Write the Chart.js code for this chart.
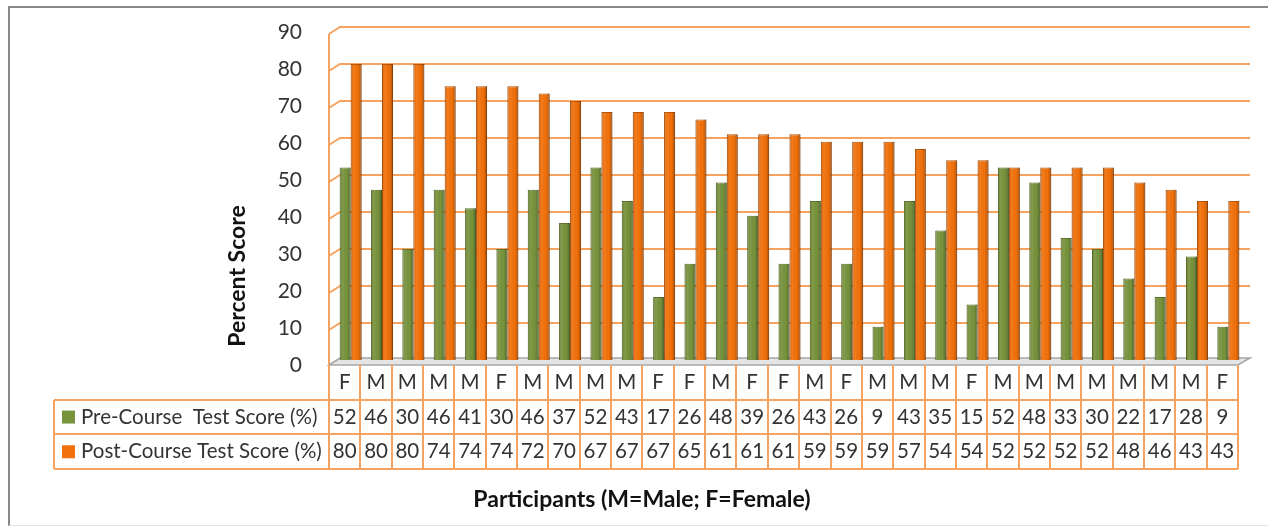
<!DOCTYPE html>
<html>
<head>
<meta charset="utf-8">
<script src="https://cdn.jsdelivr.net/npm/chart.js@4.4.1/dist/chart.umd.min.js"></script>
<style>
  html, body { margin: 0; padding: 0; background: #fff; }
  #wrap { position: relative; width: 1268px; height: 527px; overflow: hidden; }
  #frame { position: absolute; left: 8px; top: 6px; width: 1300px; height: 517px;
           border-left: 2px solid #888; border-top: 2px solid #888; border-bottom: 1px solid #e2e2e2; }
  #c { position: absolute; left: 0; top: 0; }
</style>
</head>
<body>
<div id="wrap">
  <div id="frame"></div>
  <canvas id="c" width="1268" height="527"></canvas>
</div>
<script>
// --- DATA ---
const participants = ['F','M','M','M','M','F','M','M','M','M','F','F','M','F','F','M','F','M','M','M','F','M','M','M','M','M','M','M','F'];
const preScores  = [52,46,30,46,41,30,46,37,52,43,17,26,48,39,26,43,26,9,43,35,15,52,48,33,30,22,17,28,9];
const postScores = [80,80,80,74,74,74,72,70,67,67,67,65,61,61,61,59,59,59,57,54,54,52,52,52,52,48,46,43,43];
const seriesNames = ['Pre-Course  Test Score (%)', 'Post-Course Test Score (%)'];
const yMin = 0, yMax = 90, yStep = 10;

// --- STYLE ---
const GREEN = '#77933c', GREEN_DARK = '#5b7229';
const ORANGE = '#f2710a', ORANGE_DARK = '#b85405';
const GRID = '#f7a35f';
const TEXT = '#333333';
const FONT = 'Lato, "Noto Sans", sans-serif';

const shift = 6;      // 3D offset of bars vs the data table
const depthX = 11, depthY = 7;
const tableLeft = 54, rowTop = 365, rowH = 34.7;

// back wall, floor and left wall drawn before bars
const wallPlugin = {
    id: 'wall',
    beforeDatasetsDraw(chart) {
        const { ctx, chartArea: { left, right }, scales: { y } } = chart;
        const x0 = left - shift, x1 = x0 + depthX, xr = right + shift;
        ctx.save();
        ctx.strokeStyle = GRID;
        ctx.lineWidth = 2;
        y.ticks.forEach(t => {
            if (t.value === 0) return;
            const yy = Math.round(y.getPixelForValue(t.value));
            ctx.beginPath();
            ctx.moveTo(x0, yy + depthY);
            ctx.lineTo(x1, yy);
            ctx.lineTo(xr, yy);
            ctx.stroke();
        });
        // left wall edge
        ctx.beginPath();
        ctx.moveTo(x0, y.getPixelForValue(yMax) + depthY);
        ctx.lineTo(x0, rowTop);
        ctx.stroke();

        // floor
        const y0 = y.getPixelForValue(0);
        const tableRight = right - shift;
        ctx.beginPath();
        ctx.moveTo(x0, y0 + 5);
        ctx.lineTo(x1, y0 - 2);
        ctx.lineTo(xr, y0 - 2);
        ctx.lineTo(tableRight, y0 + 5);
        ctx.closePath();
        ctx.fillStyle = '#e4e4e4';
        ctx.fill();
        ctx.strokeStyle = '#a6a6a6';
        ctx.lineWidth = 1.5;
        ctx.stroke();
        ctx.restore();
    },
    afterDatasetsDraw(chart) {
        // cylinder-like shading on the bars
        const { ctx } = chart;
        ctx.save();
        chart.data.datasets.forEach((ds, di) => {
            chart.getDatasetMeta(di).data.forEach(bar => {
                const w = bar.width, xl = bar.x - w / 2;
                const g = ctx.createLinearGradient(xl, 0, xl + w, 0);
                g.addColorStop(0, 'rgba(0,0,0,0.12)');
                g.addColorStop(0.3, 'rgba(255,255,255,0.08)');
                g.addColorStop(0.65, 'rgba(0,0,0,0.0)');
                g.addColorStop(1, 'rgba(0,0,0,0.28)');
                ctx.fillStyle = g;
                ctx.fillRect(xl, bar.y, w, bar.base - bar.y);
            });
        });
        ctx.restore();
    }
};

// data table + axis titles
const tablePlugin = {
    id: 'dataTable',
    afterDraw(chart) {
        const { ctx, chartArea: { left, right }, scales: { x } } = chart;
        const colW = x.getPixelForValue(1) - x.getPixelForValue(0);
        const x0 = left - shift, tableRight = right - shift;
        const bottom = rowTop + rowH * 3;
        ctx.save();

        ctx.strokeStyle = GRID;
        ctx.lineWidth = 2;
        // horizontal rules
        [1, 2, 3].forEach(r => {
            const yy = Math.round(rowTop + rowH * r);
            ctx.beginPath();
            ctx.moveTo(tableLeft, yy);
            ctx.lineTo(tableRight, yy);
            ctx.stroke();
        });
        // label cell left edge
        ctx.beginPath();
        ctx.moveTo(tableLeft, Math.round(rowTop + rowH));
        ctx.lineTo(tableLeft, Math.round(bottom));
        ctx.stroke();
        // column rules
        for (let i = 0; i <= participants.length; i++) {
            const xx = Math.round(x0 + i * colW);
            ctx.beginPath();
            ctx.moveTo(xx, rowTop);
            ctx.lineTo(xx, bottom);
            ctx.stroke();
        }

        // cell text
        ctx.fillStyle = TEXT;
        ctx.font = '20.5px ' + FONT;
        ctx.textAlign = 'center';
        ctx.textBaseline = 'middle';
        participants.forEach((p, i) => {
            const cx = x.getPixelForValue(i) - shift;
            ctx.fillText(p, cx, rowTop + rowH * 0.5);
            ctx.fillText(String(preScores[i]), cx, rowTop + rowH * 1.5);
            ctx.fillText(String(postScores[i]), cx, rowTop + rowH * 2.5);
        });

        // legend keys in the row headers
        [GREEN, ORANGE].forEach((c, r) => {
            const cy = rowTop + rowH * (1.5 + r);
            ctx.fillStyle = c;
            ctx.fillRect(62, cy - 6.5, 13, 13);
            ctx.fillStyle = TEXT;
            ctx.textAlign = 'left';
            ctx.fillText(seriesNames[r], 81, cy);
        });

        // axis titles
        ctx.font = 'bold 23px ' + FONT;
        ctx.fillStyle = '#111';
        ctx.textAlign = 'center';
        ctx.fillText('Participants (M=Male; F=Female)', 642, 500);
        ctx.translate(238, 276);
        ctx.rotate(-Math.PI / 2);
        ctx.fillText('Percent Score', 0, 0);
        ctx.restore();
    }
};

const ctx = document.getElementById('c').getContext('2d');
new Chart(ctx, {
    type: 'bar',
    data: {
        labels: participants,
        datasets: [
            { label: seriesNames[0], data: preScores, backgroundColor: GREEN, borderColor: GREEN_DARK, borderWidth: 1 },
            { label: seriesNames[1], data: postScores, backgroundColor: ORANGE, borderColor: ORANGE_DARK, borderWidth: 1 }
        ]
    },
    options: {
        responsive: false,
        animation: false,
        events: [],
        layout: { padding: { left: 0, right: 24, top: 27, bottom: 167 } },
        datasets: { bar: { categoryPercentage: 0.70, barPercentage: 1.0 } },
        plugins: { legend: { display: false }, tooltip: { enabled: false } },
        scales: {
            x: { display: false },
            y: {
                min: yMin, max: yMax,
                grid: { display: false },
                border: { display: false },
                ticks: { stepSize: yStep, padding: 25, labelOffset: 5, color: TEXT, font: { family: FONT, size: 21 } },
                afterFit(scale) {
                    scale.width = 335;
                    scale.paddingTop = 0;
                    scale.paddingBottom = 0;
                }
            }
        }
    },
    plugins: [wallPlugin, tablePlugin]
});
</script>
</body>
</html>
